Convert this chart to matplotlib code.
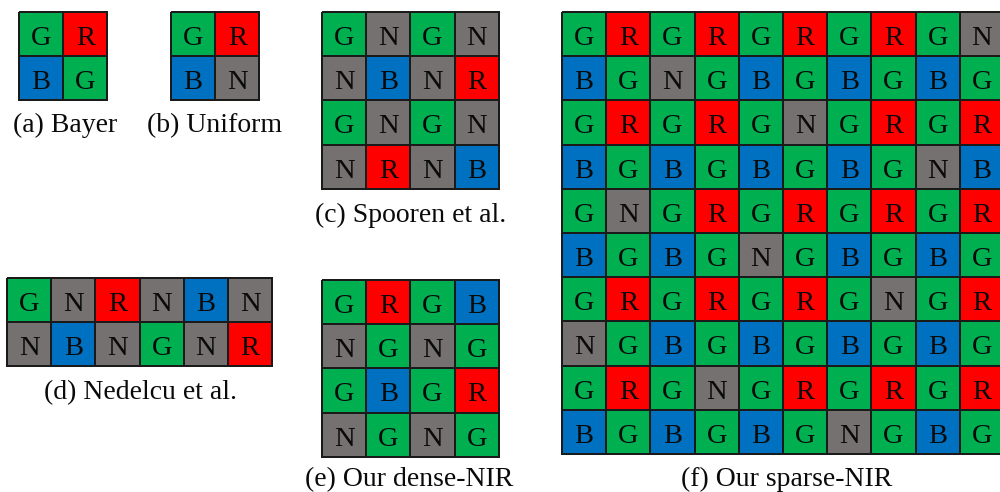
import numpy as np
import matplotlib
matplotlib.use("Agg")
import matplotlib.pyplot as plt
from matplotlib.colors import ListedColormap

# ---- data: filter patterns ----
bayer = ["GR", "BG"]
uniform = ["GR", "BN"]
spooren = ["GNGN", "NBNR", "GNGN", "NRNB"]
nedelcu = ["GNRNBN", "NBNGNR"]
dense_nir = ["GRGB", "NGNG", "GBGR", "NGNG"]
sparse_nir = [
    "GRGRGRGRGN",
    "BGNGBGBGBG",
    "GRGRGNGRGR",
    "BGBGBGBGNB",
    "GNGRGRGRGR",
    "BGBGNGBGBG",
    "GRGRGRGNGR",
    "NGBGBGBGBG",
    "GRGNGRGRGR",
    "BGBGBGNGBG",
]
captions = ["(a) Bayer", "(b) Uniform", "(c) Spooren et al.",
            "(d) Nedelcu et al.", "(e) Our dense-NIR", "(f) Our sparse-NIR"]

# ---- layout / style ----
channels = "GRBN"
colors = ["#00B050", "#FF0000", "#0070C0", "#767171"]
cmap = ListedColormap(colors)
cell = 44.2
# (left, top) of each grid in pixels, caption centre x and baseline y
layout = [
    (19, 12, 65, 132.5),
    (171, 12, 215, 132.5),
    (322, 12, 411, 222),
    (7, 278, 140, 399),
    (322, 280, 409, 486.5),
    (562, 12, 787, 486.5),
]
patterns = [bayer, uniform, spooren, nedelcu, dense_nir, sparse_nir]

W, H = 1000, 492
fig = plt.figure(figsize=(W / 100, H / 100), dpi=100)
ax = fig.add_axes([0, 0, 1, 1])
ax.set_xlim(0, W)
ax.set_ylim(H, 0)
ax.axis("off")

serif = ["Liberation Serif", "DejaVu Serif"]

for pat, (x0, y0, cx, cy), cap in zip(patterns, layout, captions):
    nr, nc = len(pat), len(pat[0])
    idx = np.array([[channels.index(ch) for ch in row] for row in pat])
    xs = x0 + np.arange(nc + 1) * cell
    ys = y0 + np.arange(nr + 1) * cell
    ax.pcolormesh(xs, ys, idx, cmap=cmap, vmin=-0.5, vmax=3.5,
                  edgecolors="#1a1a1a", linewidth=1.2, clip_on=True)
    for r, row in enumerate(pat):
        for c, ch in enumerate(row):
            ax.text(x0 + (c + 0.5) * cell, y0 + r * cell + 33, ch,
                    ha="center", va="baseline", fontsize=20.5, family=serif,
                    color="#0a0a0a")
    ax.text(cx, cy, cap, ha="center", va="baseline", fontsize=20,
            family=serif, color="#0a0a0a")

fig.savefig("out.png", dpi=100)
